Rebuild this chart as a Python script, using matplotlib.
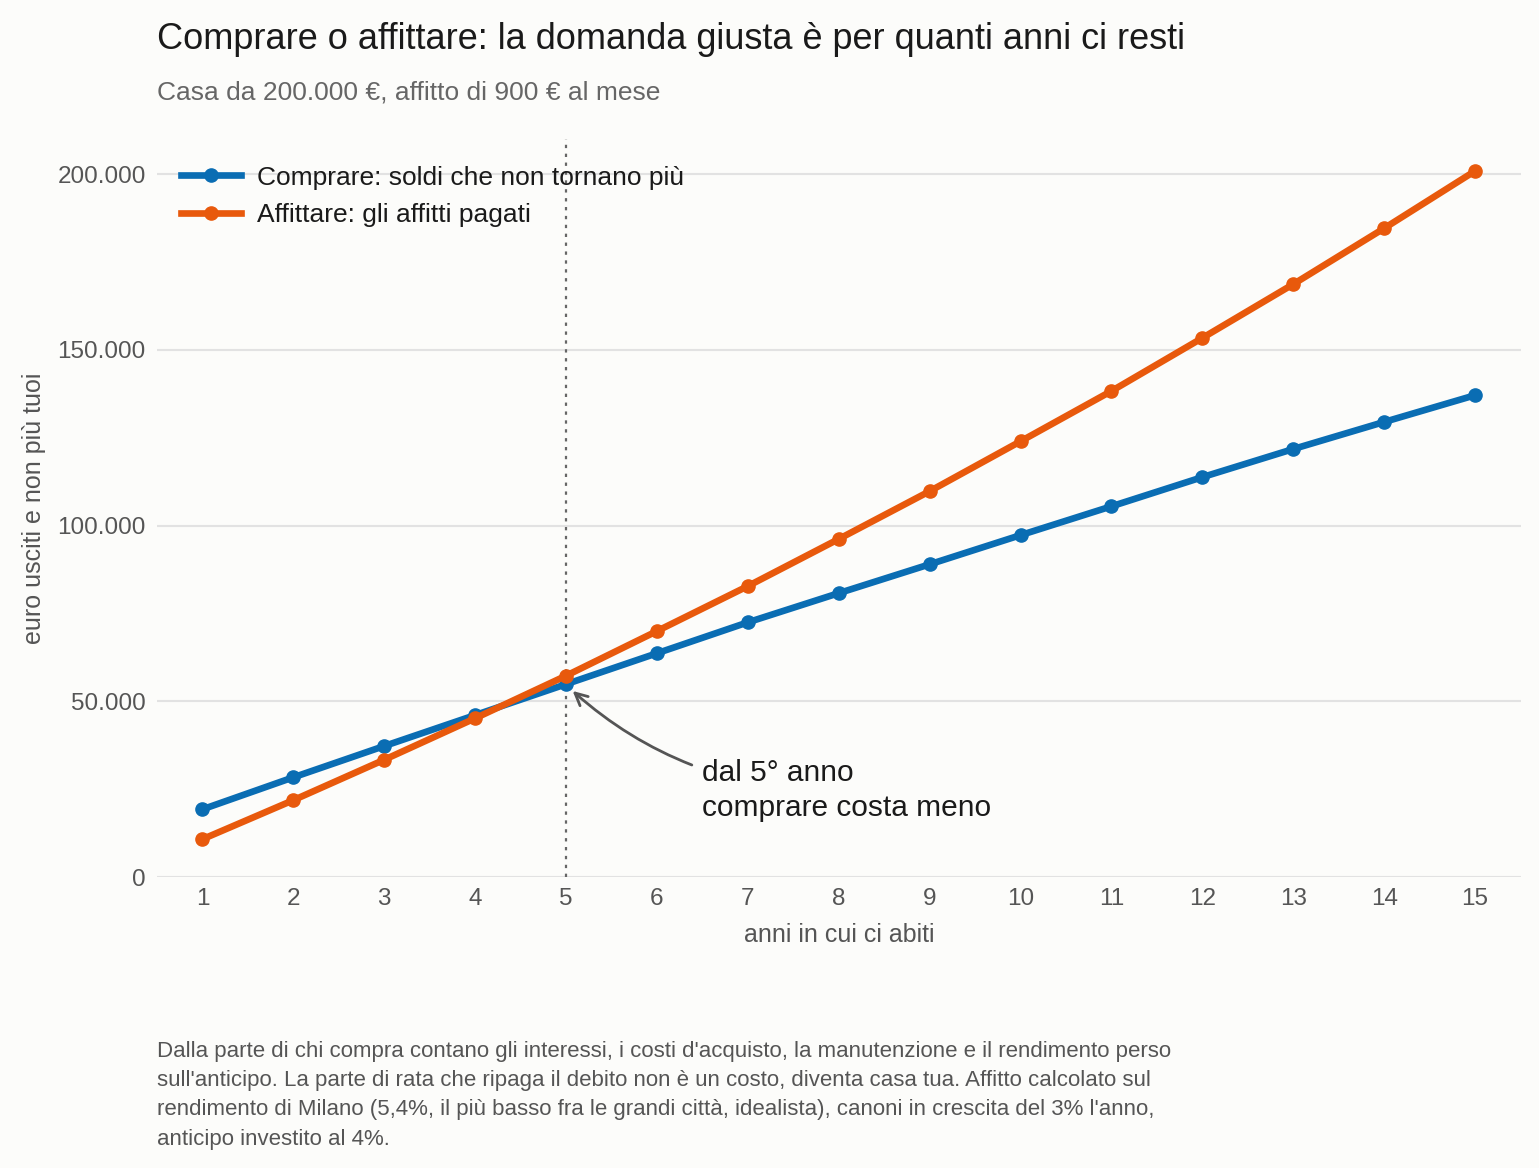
import numpy as np
import matplotlib.pyplot as plt
from matplotlib.ticker import FuncFormatter

# dati (euro cumulati)
anni = [1, 2, 3, 4, 5, 6, 7, 8, 9, 10, 11, 12, 13, 14, 15]
comprare = [19300, 28400, 37300, 46100, 54900, 63700, 72500, 80800, 89000,
            97300, 105500, 113800, 121800, 129500, 137100]
affittare = [10800, 21900, 33400, 45200, 57300, 70000, 82800, 96200, 109800,
             124000, 138300, 153400, 168700, 184600, 200900]

blu = '#0a6db3'
arancio = '#e8590c'
sfondo = '#fcfcfa'

plt.rcParams['font.family'] = ['Liberation Sans', 'DejaVu Sans']

fig = plt.figure(figsize=(15.39, 11.68), dpi=100, facecolor=sfondo)
ax = fig.add_axes([0.102, 0.249, 0.886, 0.632], facecolor=sfondo)

ax.plot(anni, comprare, color=blu, lw=4.8, marker='o', ms=9.5,
        label='Comprare: soldi che non tornano più', zorder=3)
ax.plot(anni, affittare, color=arancio, lw=4.8, marker='o', ms=9.5,
        label='Affittare: gli affitti pagati', zorder=3)

ax.axvline(5, color='#666666', lw=1.6, ls=(0, (1.5, 2.5)), zorder=2)

ax.annotate('dal 5° anno\ncomprare costa meno', xy=(5.05, 53500), xytext=(6.5, 33500),
            fontsize=21.5, color='#1a1a1a', va='top', ha='left', linespacing=1.3,
            arrowprops=dict(arrowstyle='->', color='#555555', lw=2,
                            shrinkA=6, shrinkB=2,
                            connectionstyle='arc3,rad=-0.2',
                            mutation_scale=22),
            zorder=4)

ax.set_xlim(0.5, 15.5)
ax.set_ylim(0, 210000)
ax.set_xticks(anni)
ax.set_yticks([0, 50000, 100000, 150000, 200000])
ax.yaxis.set_major_formatter(FuncFormatter(lambda v, p: f'{int(v):,}'.replace(',', '.')))
ax.grid(axis='y', color='#e2e2e2', lw=1.5, zorder=0)
ax.tick_params(length=0, labelsize=17.5, labelcolor='#555555', pad=8)
for s in ax.spines.values():
    s.set_visible(False)

ax.set_xlabel('anni in cui ci abiti', fontsize=18, color='#555555', labelpad=9)
ax.set_ylabel('euro usciti e non più tuoi', fontsize=18, color='#555555', labelpad=8.5)

leg = ax.legend(loc='upper left', bbox_to_anchor=(0.0, 0.996), frameon=False,
                fontsize=19, handlelength=2.3, handletextpad=0.6,
                labelspacing=0.5, borderaxespad=0.5)
for t in leg.get_texts():
    t.set_color('#1a1a1a')

fig.text(0.102, 0.966, 'Comprare o affittare: la domanda giusta è per quanti anni ci resti',
         fontsize=26, color='#1a1a1a', va='center')
fig.text(0.102, 0.921, 'Casa da 200.000 €, affitto di 900 € al mese',
         fontsize=19, color='#666666', va='center')

nota = ("Dalla parte di chi compra contano gli interessi, i costi d'acquisto, la manutenzione e il rendimento perso\n"
        "sull'anticipo. La parte di rata che ripaga il debito non è un costo, diventa casa tua. Affitto calcolato sul\n"
        "rendimento di Milano (5,4%, il più basso fra le grandi città, idealista), canoni in crescita del 3% l'anno,\n"
        "anticipo investito al 4%.")
fig.text(0.102, 0.109, nota, fontsize=16, color='#555555', va='top', linespacing=1.52)

fig.savefig('out.png', dpi=100, facecolor=sfondo)
